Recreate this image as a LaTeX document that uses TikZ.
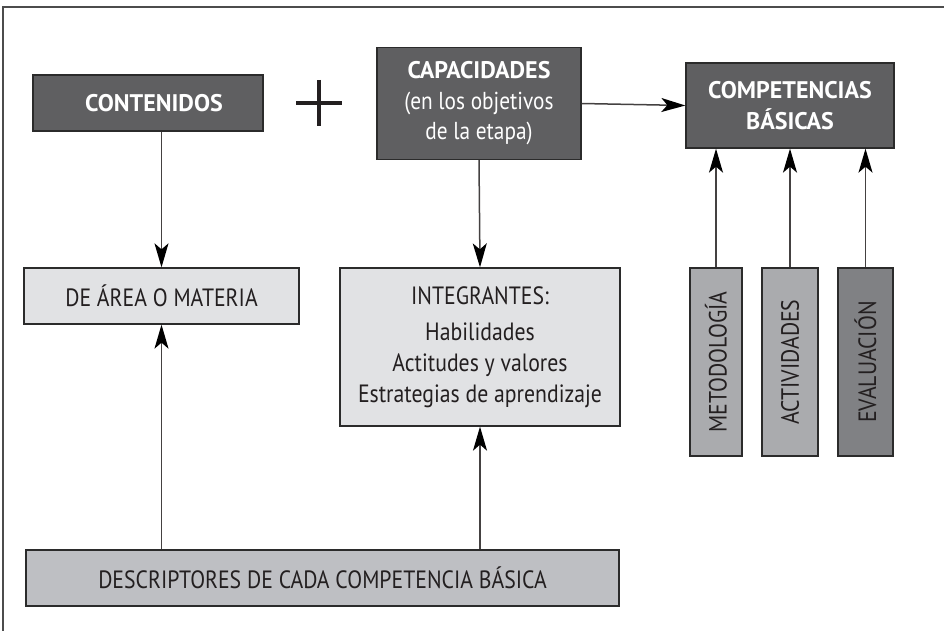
\documentclass[tikz,border=0pt]{standalone}
\usepackage{fontspec}
\setmainfont{PT Sans}
\newfontfamily\condfont{PT Sans}[FakeStretch=0.87]
\usetikzlibrary{arrows.meta}
\definecolor{darkbox}{HTML}{5F5F61}
\definecolor{edge}{HTML}{2B2B2B}
\definecolor{lightbox}{HTML}{E1E2E4}
\definecolor{midbox}{HTML}{BEBFC3}
\definecolor{vbox}{HTML}{AAABAE}
\definecolor{vdark}{HTML}{808184}
\definecolor{ink}{HTML}{231F20}
\tikzset{
  x=1pt, y=-1pt,
  boxbase/.style={draw=edge, line width=1.3pt, inner sep=0pt, align=center, font=\condfont\fontsize{25}{31}\selectfont},
  darkb/.style={boxbase, fill=darkbox, text=white, font=\condfont\fontsize{24.5}{30.5}\selectfont},
  lightb/.style={boxbase, fill=lightbox, text=ink},
  descb/.style={boxbase, fill=midbox, text=ink},
  vertb/.style={boxbase, rotate=90, text=ink, minimum width=188pt, font=\condfont\fontsize{25}{25}\selectfont},
  conn/.style={draw=ink!85, line width=1.5pt, -{Stealth[length=24pt,width=14pt,inset=6pt,color=black]}},
}
\newcommand{\bt}[1]{{\normalfont\fontsize{24}{30.5}\selectfont\bfseries #1}}
\begin{document}
\begin{tikzpicture}
\useasboundingbox (0,0) rectangle (944,631);
\draw[draw=black!70, line width=1.5pt] (3,631) -- (3,7) -- (944,7);

\node[darkb, minimum width=230pt, minimum height=56pt] (cont) at (148,103) {\hspace*{12pt}\bt{CONTENIDOS}};
\node[darkb, minimum width=204pt, minimum height=112pt] (cap) at (479,103.5) {\bt{CAPACIDADES}\\(en los objetivos\\de la etapa)};
\node[darkb, minimum width=208pt, minimum height=85pt] (comp) at (790,105.5) {\bt{COMPETENCIAS}\\\bt{BÁSICAS}};

\draw[ink, line width=4pt] (296,103) -- (342,103);
\draw[ink, line width=4pt] (319,80) -- (319,126);

\node[lightb, minimum width=275pt, minimum height=56pt] (area) at (161.5,296) {DE ÁREA O MATERIA};
\node[lightb, minimum width=280pt, minimum height=158pt] (integ) at (480,347) {INTEGRANTES:\\[5pt]Habilidades\\Actitudes y valores\\Estrategias de aprendizaje};

\node[vertb, fill=vbox, minimum height=52pt] (metod) at (716,362) {METODOLOGÍA};
\node[vertb, fill=vbox, minimum height=56pt] (activ) at (790,362) {ACTIVIDADES};
\node[vertb, fill=vdark, minimum height=55pt] (eval) at (865.5,362) {EVALUACIÓN};

\node[descb, minimum width=593pt, minimum height=56pt] (desc) at (322.5,578) {DESCRIPTORES DE CADA COMPETENCIA BÁSICA};

\draw[conn] (cap.east) -- (comp.west);
\draw[conn] (area.north |- cont.south) -- (area.north);
\draw[conn] (cap.south) -- (integ.north);
\draw[conn] (area.south |- desc.north) -- (area.south);
\draw[conn] (integ.south |- desc.north) -- (integ.south);
\draw[conn] (metod.east) -- (metod.east |- comp.south);
\draw[conn] (activ.east) -- (activ.east |- comp.south);
\draw[conn] (eval.east) -- (eval.east |- comp.south);
\end{tikzpicture}
\end{document}
